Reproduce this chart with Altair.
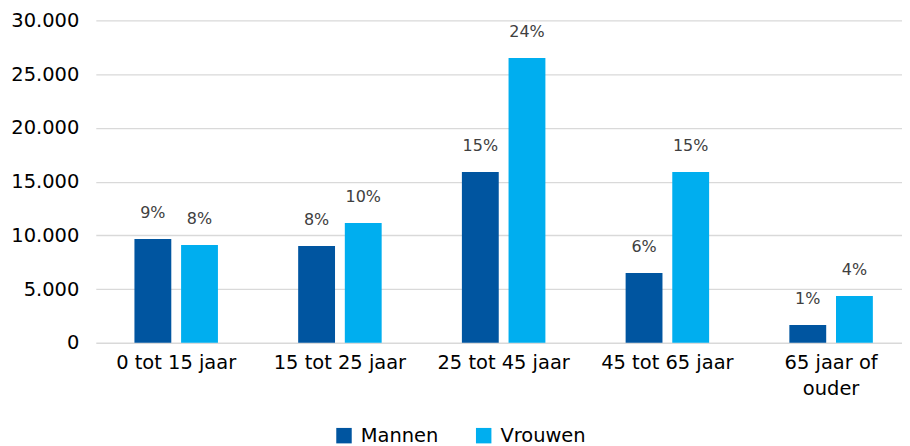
import altair as alt
import pandas as pd

categories = ["0 tot 15 jaar", "15 tot 25 jaar", "25 tot 45 jaar", "45 tot 65 jaar", "65 jaar of ouder"]
series = ["Mannen", "Vrouwen"]
mannen = [9650, 9000, 15900, 6500, 1650]
vrouwen = [9100, 11150, 26500, 15900, 4350]
mannen_pct = ["9%", "8%", "15%", "6%", "1%"]
vrouwen_pct = ["8%", "10%", "24%", "15%", "4%"]
y_ticks = [0, 5000, 10000, 15000, 20000, 25000, 30000]
colors = ["#0055A0", "#00AEEF"]

rows = []
for i, c in enumerate(categories):
    rows.append({"cat": c, "geslacht": "Mannen", "waarde": mannen[i], "pct": mannen_pct[i]})
    rows.append({"cat": c, "geslacht": "Vrouwen", "waarde": vrouwen[i], "pct": vrouwen_pct[i]})
df = pd.DataFrame(rows)

FONT = "DejaVu Sans"

x = alt.X(
    "cat:N", sort=categories, title=None,
    scale=alt.Scale(paddingInner=0.49, paddingOuter=0.207, align=0.57),
    axis=alt.Axis(
        labelAngle=0, labelFontSize=19.5, labelColor="#000000", labelFont=FONT,
        domain=False, ticks=False, labelPadding=11, labelLineHeight=26,
        labelExpr="datum.label == '65 jaar of ouder' ? ['65 jaar of', 'ouder'] : datum.label",
    ),
)
xo = alt.XOffset("geslacht:N", sort=series, scale=alt.Scale(paddingInner=0.21, paddingOuter=0))
y = alt.Y(
    "waarde:Q", title=None,
    scale=alt.Scale(domain=[0, 30000], nice=False),
    axis=alt.Axis(
        values=y_ticks, labelExpr="replace(format(datum.value, ','), ',', '.')",
        gridColor="#d9d9d9", gridWidth=1.3, domain=False, ticks=False,
        labelPadding=17, labelFontSize=19.5, labelColor="#000000", labelFont=FONT,
    ),
)

bars = alt.Chart(df).mark_bar().encode(
    x=x, xOffset=xo, y=y,
    color=alt.Color(
        "geslacht:N", sort=series, title=None,
        scale=alt.Scale(domain=series, range=colors),
        legend=alt.Legend(
            orient="none", legendX=239, legendY=406, direction="horizontal",
            symbolType="square", symbolSize=240, symbolStrokeWidth=0,
            labelFontSize=19.5, labelFont=FONT, labelColor="#000000",
            columnPadding=35, labelOffset=7,
        ),
    ),
)

labels = alt.Chart(df).mark_text(
    dy=-26, baseline="middle", fontSize=16, color="#404040", font=FONT
).encode(x=x, xOffset=xo, y=y, text="pct:N")

chart = (bars + labels).properties(
    width=808, height=323,
    padding={"left": 2, "top": 2, "right": 0, "bottom": 0},
).configure_view(stroke=None)

chart.save("out.html", embed_options={"renderer": "svg", "actions": False})
